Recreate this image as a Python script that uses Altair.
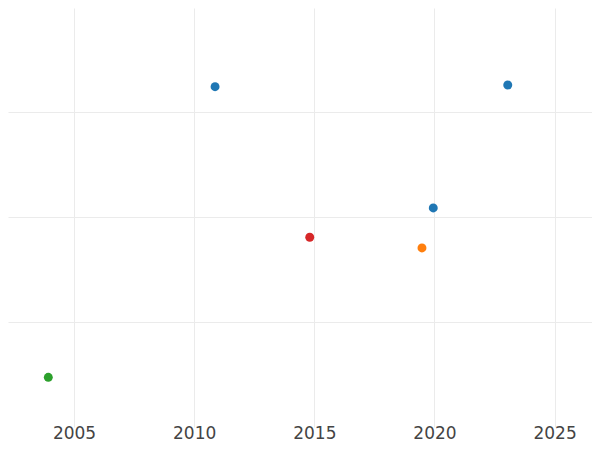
import altair as alt
import pandas as pd

years = [2003.93, 2010.87, 2014.81, 2019.48, 2019.95, 2023.05]
values = [0.473, 3.241, 1.807, 1.705, 2.086, 3.257]
groups = ["D", "A", "C", "B", "A", "A"]

group_names = ["A", "B", "C", "D"]
group_colors = ["#1f77b4", "#ff7f0e", "#d62728", "#2ca02c"]
x_ticks = [2005, 2010, 2015, 2020, 2025]
y_ticks = [1, 2, 3]

df = pd.DataFrame({"year": years, "value": values, "group": groups})

chart = (
    alt.Chart(df)
    .mark_circle(size=80, opacity=1, clip=True)
    .encode(
        x=alt.X(
            "year:Q",
            scale=alt.Scale(domain=[2002.253, 2026.556], nice=False, zero=False),
            axis=alt.Axis(values=x_ticks, format="d", title=None, domain=False,
                          ticks=False, labelFontSize=17, labelColor="#444444",
                          labelFont="DejaVu Sans", labelBaseline="alphabetic",
                          labelPadding=11, gridColor="#ebebeb", gridWidth=1),
        ),
        y=alt.Y(
            "value:Q",
            scale=alt.Scale(domain=[0, 3.99], nice=False, zero=False),
            axis=alt.Axis(values=y_ticks, labels=False, title=None, domain=False,
                          ticks=False, gridColor="#ebebeb", gridWidth=1),
        ),
        color=alt.Color("group:N", scale=alt.Scale(domain=group_names, range=group_colors),
                        legend=None),
    )
    .properties(
        width=584,
        height=419,
        autosize=alt.AutoSizeParams(type="none"),
        padding={"left": 0, "top": 0, "right": 0, "bottom": 15},
    )
    .configure_view(stroke=None)
)

chart.save("out.html", embed_options={"renderer": "svg", "actions": False})
